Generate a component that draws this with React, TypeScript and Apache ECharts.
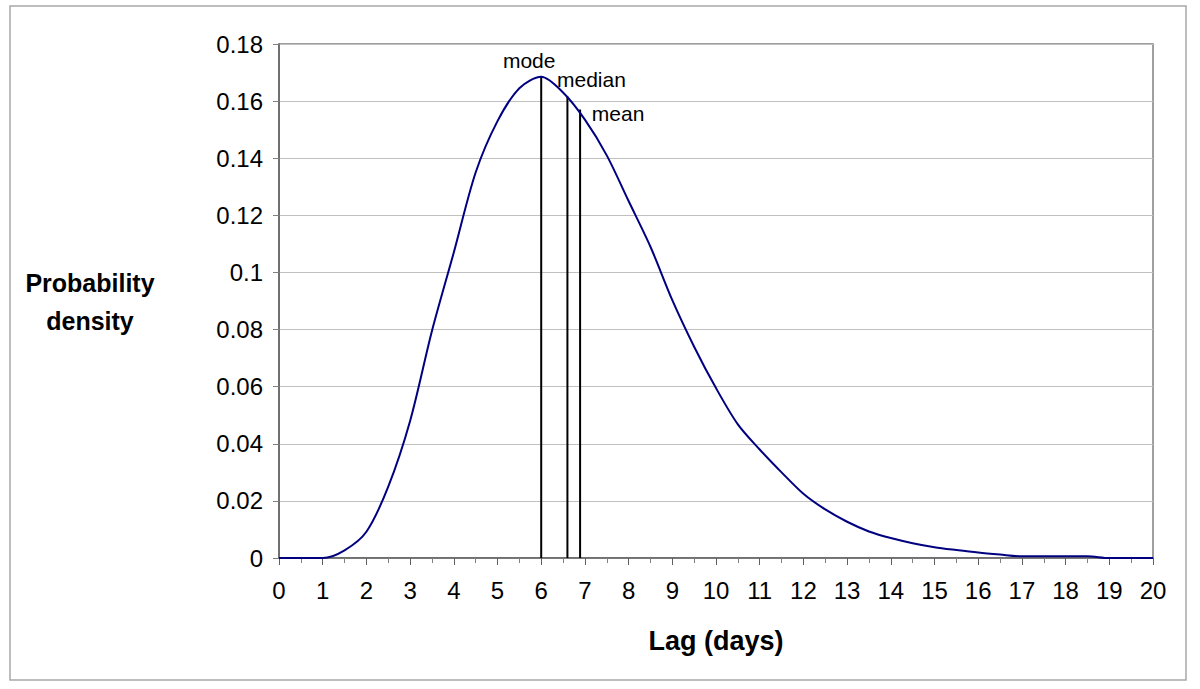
import React, { useEffect, useRef } from "react";
import * as echarts from "echarts";

const lagDays = [
  0, 0.5, 1, 1.5, 2, 2.5, 3, 3.5, 4, 4.5, 5, 5.5, 6, 6.5, 7, 7.5, 8, 8.5, 9, 9.5,
  10, 10.5, 11, 11.5, 12, 12.5, 13, 13.5, 14, 14.5, 15, 15.5, 16, 16.5, 17, 17.5,
  18, 18.5, 19, 19.5, 20,
];
const density = [
  0, 0, 0, 0.0027, 0.0092, 0.025, 0.048, 0.0795, 0.107, 0.135, 0.153, 0.1645,
  0.1685, 0.163, 0.1535, 0.141, 0.125, 0.109, 0.0903, 0.074, 0.0595, 0.0468,
  0.038, 0.03, 0.0225, 0.017, 0.0127, 0.0093, 0.007, 0.0052, 0.0038, 0.0028,
  0.0019, 0.0012, 0.0006, 0.0006, 0.0006, 0.0006, 0, 0, 0,
];
const statNames = ["mode", "median", "mean"];
const statLag = [6.0, 6.6, 6.89];
const statDensity = [0.1685, 0.1616, 0.1571];
const statLabelOffset = [
  [-12, -16],
  [24, -17],
  [38, 4],
];

const FONT = "Liberation Sans, Arial, sans-serif";

export default function App() {
  const ref = useRef<HTMLDivElement>(null);

  useEffect(() => {
    if (!ref.current) return;
    const chart = echarts.init(ref.current, undefined, { renderer: "svg" });

    const statSeries = statNames.map((name, i) => ({
      name,
      type: "line",
      data: [
        [statLag[i], 0],
        [statLag[i], statDensity[i]],
      ],
      showSymbol: false,
      symbol: "none",
      lineStyle: { color: "#000000", width: 2 },
      z: 3,
    }));

    chart.setOption({
      animation: false,
      backgroundColor: "#ffffff",
      textStyle: { fontFamily: FONT },
      grid: {
        left: 279,
        right: 47,
        top: 44,
        bottom: 131,
        show: true,
        borderColor: "#808080",
        borderWidth: 1.5,
        backgroundColor: "#ffffff",
      },
      xAxis: {
        type: "value",
        min: 0,
        max: 20,
        interval: 1,
        name: "Lag (days)",
        nameLocation: "middle",
        nameGap: 69,
        nameTextStyle: {
          fontFamily: FONT,
          fontSize: 27,
          fontWeight: "bold",
          color: "#000000",
        },
        axisLine: { show: true, lineStyle: { color: "#606060", width: 1.5 } },
        axisTick: { show: true, length: 7, lineStyle: { color: "#606060" } },
        minorTick: {
          show: true,
          splitNumber: 2,
          length: 5,
          lineStyle: { color: "#808080" },
        },
        splitLine: { show: false },
        axisLabel: {
          fontFamily: FONT,
          fontSize: 24,
          color: "#000000",
          margin: 20,
        },
      },
      yAxis: {
        type: "value",
        min: 0,
        max: 0.18,
        interval: 0.02,
        axisLine: { show: true, lineStyle: { color: "#606060", width: 1.5 } },
        axisTick: { show: true, length: 6, lineStyle: { color: "#808080" } },
        splitLine: { show: true, lineStyle: { color: "#c0c0c0", width: 1 } },
        axisLabel: {
          fontFamily: FONT,
          fontSize: 24,
          color: "#000000",
          margin: 16,
        },
      },
      series: [
        ...statSeries,
        {
          name: "density",
          type: "line",
          data: lagDays.map((d, i) => [d, density[i]]),
          showSymbol: false,
          symbol: "none",
          smooth: 0.3,
          lineStyle: { color: "#000080", width: 2 },
          z: 4,
        },
      ],
      graphic: [
        {
          id: "frame",
          type: "rect",
          shape: { x: 10, y: 6, width: 1176, height: 674 },
          style: { fill: "none", stroke: "#a8a8a8", lineWidth: 1.5 },
          z: -1,
          silent: true,
        },
        {
          id: "ytitle",
          type: "text",
          x: 90,
          y: 302,
          style: {
            text: "Probability\ndensity",
            fontFamily: FONT,
            fontSize: 25,
            fontWeight: "bold",
            fill: "#000000",
            align: "center",
            verticalAlign: "middle",
            lineHeight: 38,
          },
        },
      ],
    });

    const labels = statNames.map((name, i) => {
      const p = chart.convertToPixel({ gridIndex: 0 }, [statLag[i], statDensity[i]]) as number[];
      return {
        id: "stat-" + name,
        type: "text",
        x: p[0] + statLabelOffset[i][0],
        y: p[1] + statLabelOffset[i][1],
        z: 10,
        style: {
          text: name,
          fontFamily: FONT,
          fontSize: 21,
          fill: "#000000",
          align: "center",
          verticalAlign: "middle",
        },
      };
    });
    chart.setOption({ graphic: labels });

    return () => chart.dispose();
  }, []);

  return (
    <div
      ref={ref}
      style={{ position: "fixed", left: 0, top: 0, width: 1200, height: 689 }}
    />
  );
}
